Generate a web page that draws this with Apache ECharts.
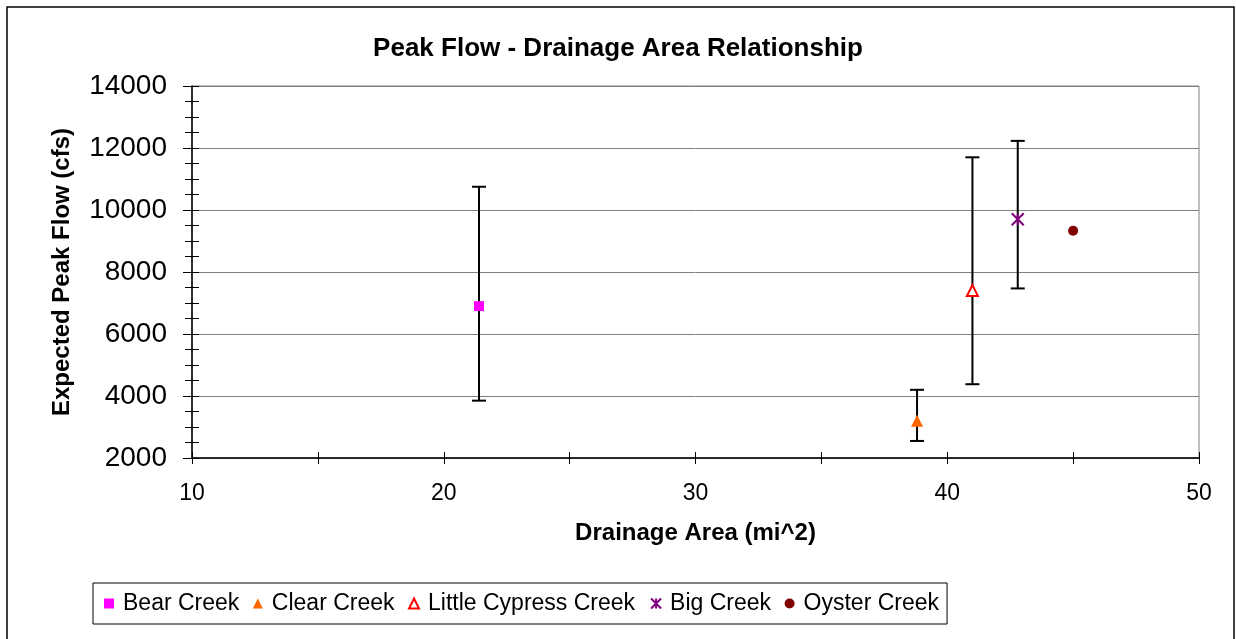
<!DOCTYPE html>
<html>
<head>
<meta charset="utf-8">
<script src="https://cdn.jsdelivr.net/npm/echarts@6/dist/echarts.min.js"></script>
<style>
html,body{margin:0;padding:0;background:#fff;}
#chart{width:1236px;height:639px;}
</style>
</head>
<body>
<div id="chart"></div>
<script>
// ---- data ----
const seriesNames = ['Bear Creek', 'Clear Creek', 'Little Cypress Creek', 'Big Creek', 'Oyster Creek'];
const drainageArea = [21.4, 38.8, 41.0, 42.8, 45.0];
const peakFlow = [6900, 3200, 7400, 9700, 9330];
const errLow = [3850, 2550, 4380, 7470, null];
const errHigh = [10750, 4200, 11700, 12230, null];
const xTicks = [10, 20, 30, 40, 50];
const yTicks = [2000, 4000, 6000, 8000, 10000, 12000, 14000];

const colors = ['#FF00FF', '#FF6600', '#FF0000', '#800080', '#800000'];
const FONT = 'Liberation Sans, Arial, sans-serif';

const chart = echarts.init(document.getElementById('chart'));

const errData = [];
for (let i = 0; i < drainageArea.length; i++) {
  if (errLow[i] != null) errData.push([drainageArea[i], errLow[i], errHigh[i]]);
}

const asterisk = 'path://M0,0 L10,10 M10,0 L0,10 M5,0 L5,10';

const symbolDefs = [
  { symbol: 'rect', size: 10, itemStyle: { color: colors[0] } },
  { symbol: 'triangle', size: [12, 12], itemStyle: { color: colors[1] } },
  { symbol: 'triangle', size: [11, 11], itemStyle: { color: '#ffffff', borderColor: colors[2], borderWidth: 2 } },
  { symbol: asterisk, size: [12, 12], itemStyle: { color: 'none', borderColor: colors[3], borderWidth: 2 } },
  { symbol: 'circle', size: 10, itemStyle: { color: colors[4] } }
];

const scatterSeries = seriesNames.map((name, i) => ({
  name: name,
  type: 'scatter',
  xAxisIndex: 0,
  yAxisIndex: 0,
  symbol: symbolDefs[i].symbol,
  symbolSize: symbolDefs[i].size,
  itemStyle: Object.assign({ opacity: 1 }, symbolDefs[i].itemStyle),
  z: 5,
  data: [[drainageArea[i], peakFlow[i]]],
  emphasis: { disabled: true }
}));

const errorSeries = {
  type: 'custom',
  name: 'err',
  xAxisIndex: 0,
  yAxisIndex: 0,
  z: 3,
  silent: true,
  data: errData,
  renderItem: function (params, api) {
    const x = api.value(0);
    const pLo = api.coord([x, api.value(1)]);
    const pHi = api.coord([x, api.value(2)]);
    const w = 7;
    const st = { stroke: '#000', lineWidth: 2 };
    return {
      type: 'group',
      children: [
        { type: 'line', shape: { x1: pLo[0], y1: pLo[1], x2: pHi[0], y2: pHi[1] }, style: st },
        { type: 'line', shape: { x1: pHi[0] - w, y1: pHi[1], x2: pHi[0] + w, y2: pHi[1] }, style: st },
        { type: 'line', shape: { x1: pLo[0] - w, y1: pLo[1], x2: pLo[0] + w, y2: pLo[1] }, style: st }
      ]
    };
  }
};

const option = {
  animation: false,
  backgroundColor: '#fff',
  title: {
    text: 'Peak Flow - Drainage Area Relationship',
    left: 'center',
    top: 31,
    textStyle: { fontSize: 26, fontWeight: 'bold', fontFamily: FONT, color: '#000' }
  },
  grid: {
    left: 192, right: 37, top: 86, bottom: 181,
    show: true, borderColor: '#808080', borderWidth: 1, backgroundColor: 'transparent'
  },
  graphic: [{
    type: 'rect', shape: { x: 7, y: 7, width: 1227, height: 640 },
    style: { fill: 'none', stroke: '#000', lineWidth: 1.5 }, silent: true, z: 100
  }],
  legend: {
    left: 93, top: 583,
    padding: [9, 8, 9, 11],
    borderColor: '#000', borderWidth: 1,
    itemGap: 13.5, itemWidth: 10, itemHeight: 10,
    data: seriesNames,
    textStyle: { fontSize: 23, fontFamily: FONT, color: '#000', padding: [0, 0, 0, 4] }
  },
  xAxis: [{
    type: 'value', min: xTicks[0], max: xTicks[xTicks.length - 1], interval: 10,
    name: 'Drainage Area (mi^2)', nameLocation: 'middle', nameGap: 63,
    nameTextStyle: { fontSize: 24, fontWeight: 'bold', fontFamily: FONT, color: '#000' },
    axisLine: { show: true, onZero: false, lineStyle: { color: '#000', width: 1.5 } },
    axisTick: { show: true, length: 6, lineStyle: { color: '#000', width: 1 } },
    minorTick: { show: true, splitNumber: 2, length: 6, lineStyle: { color: '#000', width: 1 } },
    axisLabel: { margin: 24, color: '#000', fontSize: 23, fontFamily: FONT },
    splitLine: { show: false }
  }, {
    type: 'value', min: xTicks[0], max: xTicks[xTicks.length - 1], interval: 10, position: 'bottom',
    axisLine: { show: false },
    axisTick: { show: true, inside: true, length: 6, lineStyle: { color: '#000', width: 1 } },
    minorTick: { show: true, splitNumber: 2, length: 6, lineStyle: { color: '#000', width: 1 } },
    axisLabel: { show: false },
    splitLine: { show: false }
  }],
  yAxis: [{
    type: 'value', min: yTicks[0], max: yTicks[yTicks.length - 1], interval: 2000,
    name: 'Expected Peak Flow (cfs)', nameLocation: 'middle', nameGap: 118,
    nameTextStyle: { fontSize: 24, fontWeight: 'bold', fontFamily: FONT, color: '#000' },
    axisLine: { show: true, onZero: false, lineStyle: { color: '#000', width: 1.5 } },
    axisTick: { show: true, length: 9, lineStyle: { color: '#000', width: 1 } },
    minorTick: { show: true, splitNumber: 4, length: 7, lineStyle: { color: '#000', width: 1 } },
    axisLabel: { margin: 25, color: '#000', fontSize: 28, fontFamily: FONT, formatter: v => String(v) },
    splitLine: { show: true, lineStyle: { color: '#808080', width: 1 } }
  }, {
    type: 'value', min: yTicks[0], max: yTicks[yTicks.length - 1], interval: 2000, position: 'left',
    axisLine: { show: false },
    axisTick: { show: true, inside: true, length: 7, lineStyle: { color: '#000', width: 1 } },
    minorTick: { show: true, splitNumber: 4, length: 7, lineStyle: { color: '#000', width: 1 } },
    axisLabel: { show: false },
    splitLine: { show: false }
  }],
  series: [errorSeries].concat(scatterSeries)
};

chart.setOption(option);
</script>
</body>
</html>
